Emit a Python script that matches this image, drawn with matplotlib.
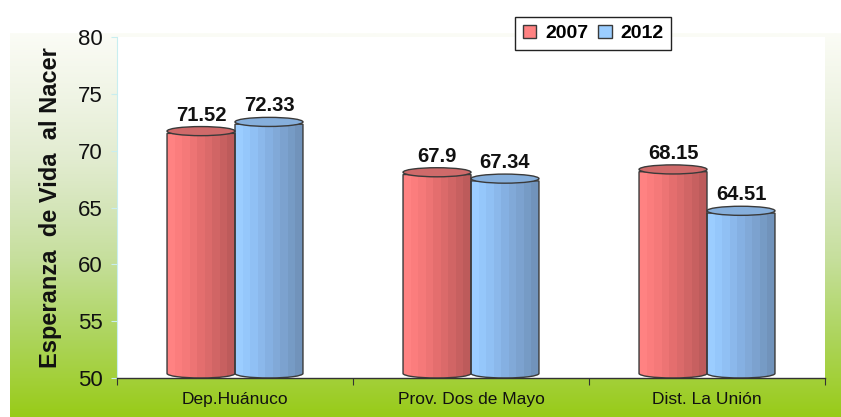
import numpy as np
import matplotlib
matplotlib.use("Agg")
import matplotlib.pyplot as plt
from matplotlib.colors import LinearSegmentedColormap
from matplotlib.patches import Ellipse, PathPatch, Patch
from matplotlib.path import Path
from matplotlib.transforms import Affine2D

plt.rcParams['font.family'] = ['Liberation Sans', 'DejaVu Sans']

# ---- data ----
categories = ["Dep.Huánuco", "Prov. Dos de Mayo", "Dist. La Unión"]
series_names = ["2007", "2012"]
values_2007 = [71.52, 67.9, 68.15]
values_2012 = [72.33, 67.34, 64.51]
y_ticks = [50, 55, 60, 65, 70, 75, 80]
y_label = "Esperanza  de Vida  al Nacer"

# ---- styles ----
W, H = 841, 417
red_cols = ["#ff8282", "#fb7d7d", "#f47878", "#ea7272", "#e06c6c", "#d56767", "#c96161", "#bd5b5b"]
blue_cols = ["#9bcdff", "#95c7fb", "#8fbef2", "#89b5e8", "#83addd", "#7ea5d2", "#789dc7", "#7193bb"]
red_top = "#cf6a6a"
blue_top = "#86afdc"
edge = "#3a3a3a"
bar_w = 0.288
ell_h = 0.8   # data units (approx 9 px)

fig = plt.figure(figsize=(W / 100, H / 100), dpi=100)
fig.patch.set_facecolor("white")

# background gradient
bg = fig.add_axes([0, 0, 1, 1], zorder=0)
bg.set_xlim(0, W)
bg.set_ylim(H, 0)
bg.axis("off")
stops = [(0.0, "#fbfcf6"), (0.17, "#eff4e4"), (0.33, "#e2ecd0"), (0.46, "#d4e5b8"),
         (0.59, "#c6df9c"), (0.69, "#b9da7c"), (0.80, "#acd45a"), (0.90, "#a3d03a"),
         (1.0, "#98cb18")]
bg_cmap = LinearSegmentedColormap.from_list("bg", stops)
grad = np.linspace(0, 1, 256).reshape(-1, 1)
bg.imshow(grad, extent=(10, W, H, 33), aspect="auto", cmap=bg_cmap, interpolation="bilinear")

ax = fig.add_axes([117 / W, 39 / H, 708 / W, 341 / H], zorder=1)
ax.set_facecolor("white")

x = np.arange(len(categories))
bars07 = ax.bar(x - bar_w / 2, np.array(values_2007) - 50, bar_w, bottom=50, alpha=0)
bars12 = ax.bar(x + bar_w / 2, np.array(values_2012) - 50, bar_w, bottom=50, alpha=0)

red_cmap = LinearSegmentedColormap.from_list("r", red_cols)
blue_cmap = LinearSegmentedColormap.from_list("b", blue_cols)
hgrad = np.linspace(0, 1, 9).reshape(1, -1)


def cylinder(rect, cmap, topc, value):
    x0 = rect.get_x()
    w = rect.get_width()
    x1 = x0 + w
    xc = x0 + w / 2
    base = rect.get_y()
    top = value
    bc = base + ell_h / 2
    arc = Path.arc(180, 360)
    arc = arc.transformed(Affine2D().scale(w / 2, ell_h / 2).translate(xc, bc))
    verts = [(x0, top), (x0, bc)] + list(arc.vertices[1:]) + [(x1, top), (x0, top)]
    codes = [Path.MOVETO, Path.LINETO] + list(arc.codes[1:]) + [Path.LINETO, Path.CLOSEPOLY]
    path = Path(verts, codes)
    body = PathPatch(path, facecolor="none", edgecolor=edge, lw=1.0, zorder=3)
    ax.add_patch(body)
    im = ax.imshow(hgrad, extent=(x0, x1, base - 1, top), aspect="auto", cmap=cmap,
                   interpolation="nearest", zorder=2)
    im.set_clip_path(body)
    ax.add_patch(Ellipse((xc, top + 0.2), w, ell_h, facecolor=topc, edgecolor=edge,
                         lw=1.0, zorder=4))
    ax.annotate(str(value), (xc, top + 0.2), xytext=(0, 7.5), textcoords="offset points",
                ha="center", va="baseline", fontsize=14.5, fontweight="bold", color="#111111",
                zorder=5)


for r, v in zip(bars07, values_2007):
    cylinder(r, red_cmap, red_top, v)
for r, v in zip(bars12, values_2012):
    cylinder(r, blue_cmap, blue_top, v)

ax.set_xlim(-0.5, len(categories) - 0.5)
ax.set_ylim(50, 80)
ax.set_yticks(y_ticks)
ax.set_yticklabels([str(t) for t in y_ticks], fontsize=16, color="#111111")
ax.tick_params(axis="y", length=4, color="#c8eef0", pad=6)
ax.set_xticks(np.arange(len(categories) + 1) - 0.5)
ax.set_xticklabels([])
ax.tick_params(axis="x", which="major", length=5, color="#333333", direction="out")
ax.set_xticks(x, minor=True)
ax.set_xticklabels(categories, minor=True, fontsize=12.5, color="#111111")
ax.tick_params(axis="x", which="minor", length=0, pad=10)

for s in ["top", "right"]:
    ax.spines[s].set_visible(False)
ax.spines["left"].set_color("#c8eef0")
ax.spines["bottom"].set_color("#333333")
ax.spines["bottom"].set_linewidth(1.0)

fig.text(51 / W, 1 - 208 / H, y_label, rotation=90, ha="center", va="center",
         fontsize=17, fontweight="bold", color="#111111")

handles = [Patch(facecolor=red_cols[0], edgecolor=edge, label=series_names[0]),
           Patch(facecolor=blue_cols[0], edgecolor=edge, label=series_names[1])]
leg = ax.legend(handles=handles, loc="upper left", bbox_to_anchor=(515 / W, 1 - 17 / H),
                bbox_transform=fig.transFigure, borderaxespad=0, ncol=2, fancybox=False,
                framealpha=1, edgecolor="#222222", prop={"size": 14, "weight": "bold"},
                handlelength=0.7, handleheight=0.7, handletextpad=0.45, columnspacing=0.5,
                borderpad=0.4)
leg.get_frame().set_linewidth(1.0)
leg.set_zorder(6)

fig.savefig("out.png", dpi=100, facecolor="white")
